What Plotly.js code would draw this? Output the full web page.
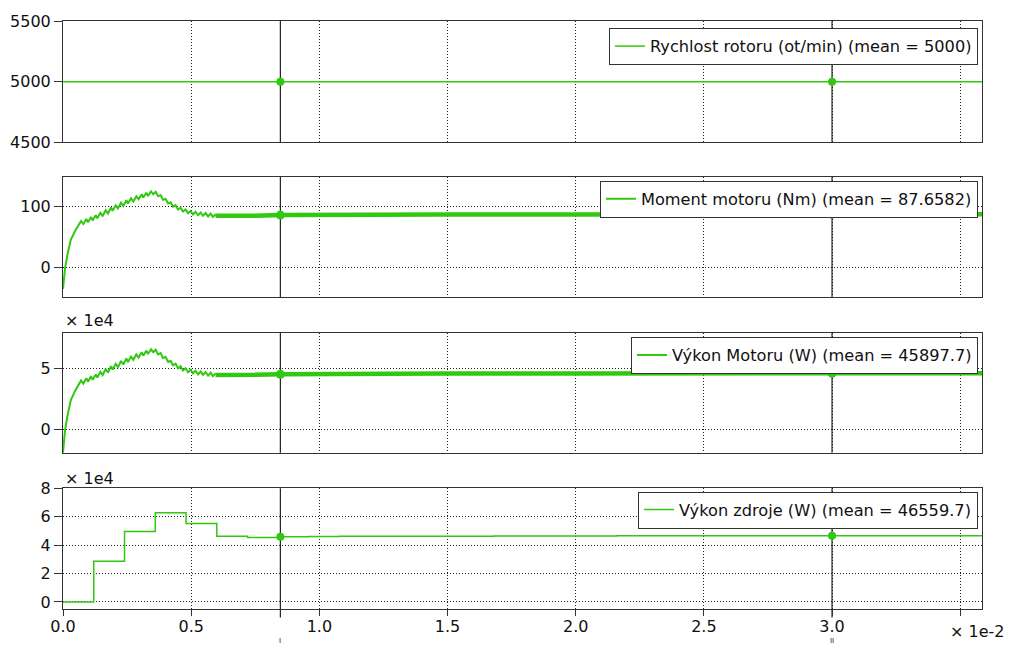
<!DOCTYPE html>
<html>
<head>
<meta charset="utf-8">
<script src="https://cdn.plot.ly/plotly-3.0.1.min.js"></script>
<style>html,body{margin:0;padding:0;background:#fff;}#chart{width:1011px;height:646px;}</style>
</head>
<body>
<div id="chart"></div>
<script>
// ---- data (time in units of 1e-2 s) ----
const xTickVals = [0, 0.5, 1.0, 1.5, 2.0, 2.5, 3.0, 3.5];
const xTickText = ['0.0', '0.5', '1.0', '1.5', '2.0', '2.5', '3.0', ''];
const cursorTimes = [0.848, 3.0];
const cursorNames = ['I', 'II'];

const legendNames = [
  'Rychlost rotoru (ot/min) (mean = 5000)',
  'Moment motoru (Nm) (mean = 87.6582)',
  'Výkon Motoru (W) (mean = 45897.7)',
  'Výkon zdroje (W) (mean = 46559.7)'
];

// rotor speed
const tSpeed = [0, 3.585];
const speed = [5000, 5000];
const cursorSpeed = [5000, 5000];

// motor torque (transient with ripple, then steady band)
const tTrans = [0.000, 0.004, 0.008, 0.017, 0.030, 0.047, 0.0584, 0.0704, 0.0792, 0.0912, 0.0974, 0.1094, 0.1156, 0.1276, 0.1338, 0.1458, 0.1546, 0.1666, 0.1754, 0.1874, 0.1936, 0.2056, 0.2144, 0.2264, 0.2352, 0.2472, 0.2534, 0.2654, 0.2742, 0.2862, 0.2950, 0.3070, 0.3132, 0.3252, 0.3314, 0.3434, 0.352, 0.3616, 0.371, 0.381, 0.390, 0.400, 0.410, 0.420, 0.429, 0.439, 0.449, 0.459, 0.468, 0.478, 0.488, 0.498, 0.507, 0.517, 0.527, 0.537, 0.546, 0.556, 0.566, 0.576, 0.585, 0.595];
const torqueTrans = [-36, -20, -2, 20, 45, 60, 67.0, 76.5, 71.5, 80.0, 74.5, 83.0, 77.5, 86.0, 81.0, 90.0, 85.0, 94.5, 89.0, 99.0, 93.5, 102.5, 97.5, 107.0, 101.5, 111.0, 105.5, 114.0, 109.0, 117.5, 112.5, 121.0, 115.5, 123.5, 118.0, 125.5, 120.8, 124.8, 117.5, 119.5, 111.5, 113.5, 105.5, 107.5, 100.3, 102.8, 95.7, 98.7, 92.3, 95.8, 89.5, 93.2, 87.5, 91.7, 86.1, 90.6, 85.2, 89.7, 84.2, 88.7, 83.2, 87.7];
const tSteady = [0.595, 0.65, 0.70, 0.75, 0.85, 1.0, 1.25, 1.5, 2.0, 2.5, 3.0, 3.585];
const torqueSteady = [85.2, 84.7, 84.8, 85.3, 86.3, 86.8, 87.1, 87.3, 87.5, 87.6, 87.8, 87.8];
const cursorTorque = [86.3, 87.8];

// motor power (W)
const powerTrans = [-19500, -10470, -1050, 10470, 23560, 31420, 35080, 40060, 37440, 41890, 39010, 43460, 40580, 45030, 42410, 47120, 44510, 49480, 46600, 51840, 48960, 53670, 51050, 56030, 53150, 58120, 55240, 59690, 57070, 61520, 58910, 63360, 60480, 64660, 61780, 65710, 63250, 65350, 61520, 62570, 58380, 59430, 55240, 56290, 52520, 53830, 50110, 51680, 48330, 50160, 46860, 48800, 45820, 48010, 45080, 47440, 44610, 46970, 44090, 46440, 43560, 45920];
const powerSteady = [44610, 44350, 44400, 44660, 45190, 45450, 45610, 45710, 45820, 45870, 45970, 45970];
const cursorPower = [45190, 45970];

// source power (W), sample-and-hold steps
const tSource = [0, 0.12, 0.24, 0.36, 0.48, 0.60, 0.72, 0.84, 0.96, 1.08, 1.32, 1.68, 2.16, 2.76, 3.585];
const source = [0, 28600, 49600, 62700, 55200, 46300, 45400, 45800, 46000, 46200, 46300, 46400, 46500, 46600, 46600];
const cursorSource = [45800, 46500];

// ---- styling ----
const GREEN = '#30c810';
const FONT = 'DejaVu Sans, sans-serif';
const X_RANGE = [0, 3.585];
const GRID_DASH = '1px,2px';

const traces = [
  {x: tSpeed, y: speed, xaxis: 'x', yaxis: 'y', mode: 'lines', line: {color: GREEN, width: 1.5}, name: legendNames[0], legend: 'legend'},
  {x: cursorTimes, y: cursorSpeed, xaxis: 'x', yaxis: 'y', mode: 'markers', marker: {color: GREEN, size: 8}, showlegend: false},

  {x: tTrans, y: torqueTrans, xaxis: 'x2', yaxis: 'y2', mode: 'lines', line: {color: GREEN, width: 2}, name: legendNames[1], legend: 'legend2'},
  {x: tSteady, y: torqueSteady, xaxis: 'x2', yaxis: 'y2', mode: 'lines', line: {color: GREEN, width: 4.5}, showlegend: false},
  {x: cursorTimes, y: cursorTorque, xaxis: 'x2', yaxis: 'y2', mode: 'markers', marker: {color: GREEN, size: 9}, showlegend: false},

  {x: tTrans, y: powerTrans, xaxis: 'x3', yaxis: 'y3', mode: 'lines', line: {color: GREEN, width: 2}, name: legendNames[2], legend: 'legend3'},
  {x: tSteady, y: powerSteady, xaxis: 'x3', yaxis: 'y3', mode: 'lines', line: {color: GREEN, width: 4.5}, showlegend: false},
  {x: cursorTimes, y: cursorPower, xaxis: 'x3', yaxis: 'y3', mode: 'markers', marker: {color: GREEN, size: 9}, showlegend: false},

  {x: tSource, y: source, xaxis: 'x4', yaxis: 'y4', mode: 'lines', line: {color: GREEN, width: 1.5, shape: 'hv'}, name: legendNames[3], legend: 'legend4'},
  {x: cursorTimes, y: cursorSource, xaxis: 'x4', yaxis: 'y4', mode: 'markers', marker: {color: GREEN, size: 8}, showlegend: false}
];

const domains = [[0.7937, 1], [0.5301, 0.7352], [0.2658, 0.4699], [0, 0.2053]];

function xAxis(i, bottom) {
  return {
    domain: [0, 1], anchor: i === 1 ? 'y' : 'y' + i, range: X_RANGE,
    tickmode: 'array', tickvals: xTickVals, ticktext: xTickText,
    showticklabels: bottom, ticks: bottom ? 'outside' : '', ticklen: 6, tickcolor: '#333',
    ticklabelstandoff: bottom ? -3 : 0,
    showgrid: true, gridcolor: '#222', griddash: GRID_DASH, gridwidth: 1,
    showline: true, linecolor: '#333', linewidth: 1, mirror: true,
    zeroline: false, fixedrange: true,
    tickfont: {family: FONT, size: 16, color: '#111'}
  };
}
function yAxis(i, range, vals, text) {
  return {
    domain: domains[i - 1], anchor: i === 1 ? 'x' : 'x' + i, range: range,
    tickmode: 'array', tickvals: vals, ticktext: text,
    ticks: 'outside', ticklen: 8, tickcolor: '#333',
    showgrid: true, gridcolor: '#222', griddash: GRID_DASH, gridwidth: 1,
    showline: true, linecolor: '#333', linewidth: 1, mirror: true,
    zeroline: false, fixedrange: true,
    tickfont: {family: FONT, size: 16, color: '#111'}
  };
}

function legendBox(y) {
  return {x: 0.9956, y: y, xanchor: 'right', yanchor: 'top', bgcolor: '#fff', bordercolor: '#333', borderwidth: 1,
          font: {family: FONT, size: 16.2, color: '#111'}};
}

const shapes = [];
['y', 'y2', 'y3', 'y4'].forEach((ya, k) => {
  cursorTimes.forEach(ct => {
    shapes.push({type: 'line', xref: k === 0 ? 'x' : 'x' + (k + 1), yref: ya + ' domain', x0: ct, x1: ct,
                 y0: k === 3 ? -0.07 : 0, y1: 1, line: {color: '#222', width: 1.2}, layer: 'below'});
  });
});

const annotations = [
  {xref: 'paper', yref: 'paper', x: 0, y: 0.4898, xanchor: 'left', yanchor: 'middle', text: '× 1e4', showarrow: false, font: {family: FONT, size: 16, color: '#111'}},
  {xref: 'paper', yref: 'paper', x: 0, y: 0.2211, xanchor: 'left', yanchor: 'middle', text: '× 1e4', showarrow: false, font: {family: FONT, size: 16, color: '#111'}},
  {xref: 'paper', yref: 'paper', x: 1.0261, y: -0.0391, xanchor: 'right', yanchor: 'middle', text: '× 1e-2', showarrow: false, font: {family: FONT, size: 16, color: '#111'}}
];
cursorTimes.forEach((ct, i) => {
  annotations.push({xref: 'x4', yref: 'paper', x: ct, y: -0.0629, xanchor: 'center', yanchor: 'bottom', text: cursorNames[i], showarrow: false,
                    font: {family: FONT, size: 7, color: '#111'}, borderpad: 0});
});

const layout = {
  width: 1011, height: 646,
  margin: {l: 63, r: 29, t: 21, b: 37},
  paper_bgcolor: '#fff', plot_bgcolor: '#fff',
  font: {family: FONT, size: 16, color: '#111'},
  hovermode: false,
  xaxis: xAxis(1, false), xaxis2: xAxis(2, false), xaxis3: xAxis(3, false), xaxis4: xAxis(4, true),
  yaxis: yAxis(1, [4500, 5500], [4500, 5000, 5500], ['4500', '5000', '5500']),
  yaxis2: yAxis(2, [-50, 150], [0, 100], ['0', '100']),
  yaxis3: yAxis(3, [-19500, 79400], [0, 50000], ['0', '5']),
  yaxis4: yAxis(4, [-5000, 80000], [0, 20000, 40000, 60000, 80000], ['0', '2', '4', '6', '8']),
  legend: legendBox(0.988),
  legend2: legendBox(0.7284),
  legend3: legendBox(0.4626),
  legend4: legendBox(0.1998),
  shapes: shapes,
  annotations: annotations
};

Plotly.newPlot('chart', traces, layout, {displayModeBar: false, staticPlot: true});
</script>
</body>
</html>
